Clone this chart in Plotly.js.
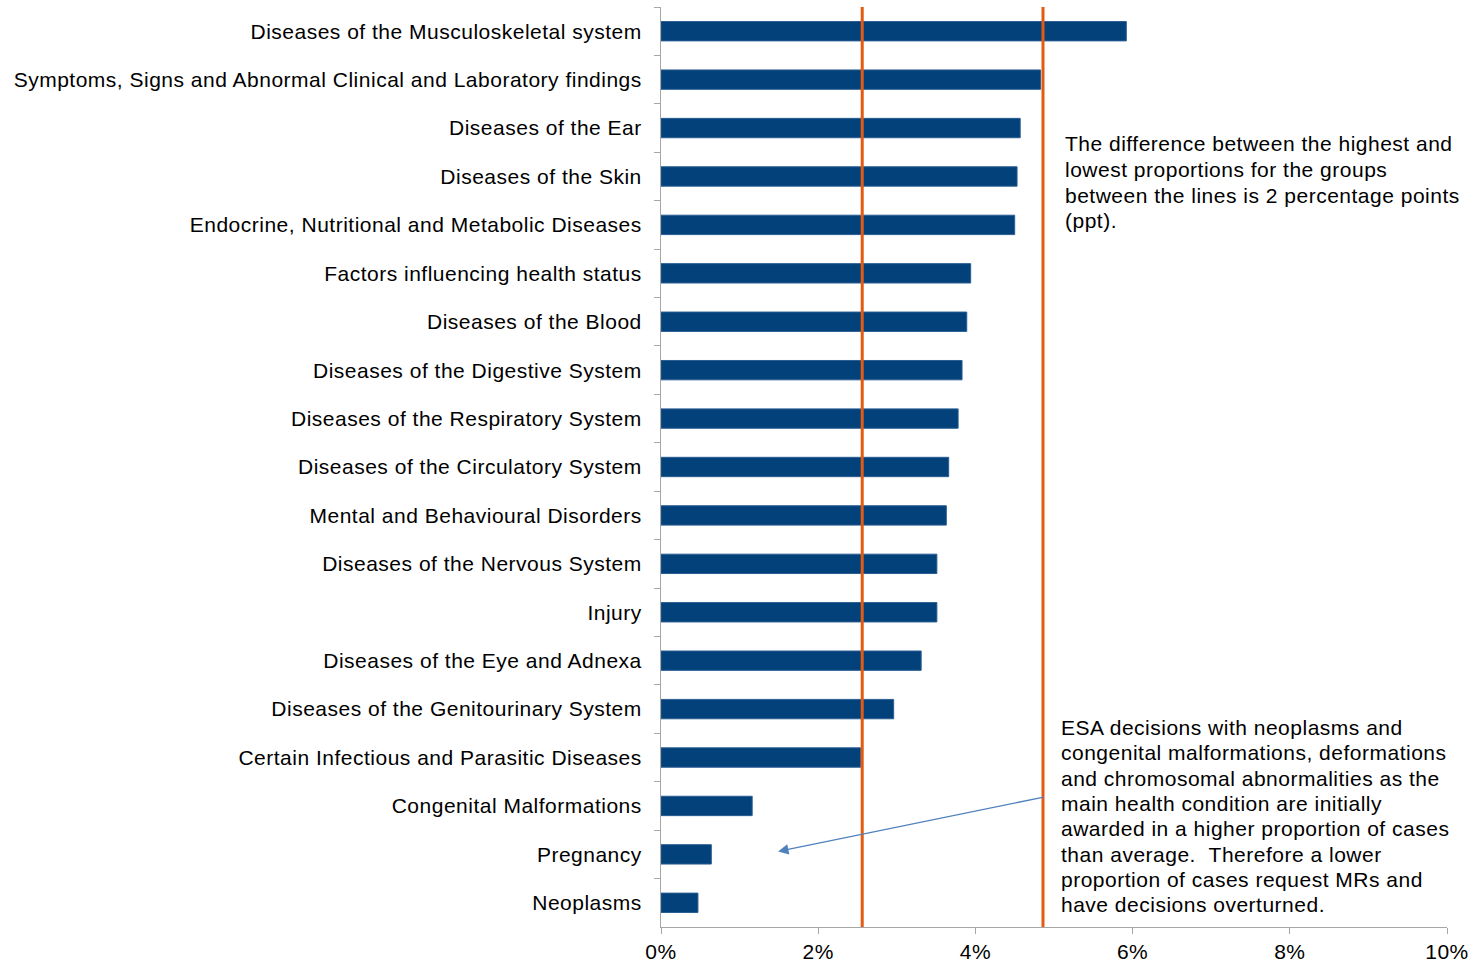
<!DOCTYPE html>
<html>
<head>
<meta charset="utf-8">
<script src="https://cdn.plot.ly/plotly-3.0.1.min.js"></script>
<style>
html,body{margin:0;padding:0;background:#fff;}
#chart{width:1473px;height:965px;}
#chart text{letter-spacing:0.5px;}
</style>
</head>
<body>
<div id="chart"></div>
<script>
const categories = [
  "Diseases of the Musculoskeletal system",
  "Symptoms, Signs and Abnormal Clinical and Laboratory findings",
  "Diseases of the Ear",
  "Diseases of the Skin",
  "Endocrine, Nutritional and Metabolic Diseases",
  "Factors influencing health status",
  "Diseases of the Blood",
  "Diseases of the Digestive System",
  "Diseases of the Respiratory System",
  "Diseases of the Circulatory System",
  "Mental and Behavioural Disorders",
  "Diseases of the Nervous System",
  "Injury",
  "Diseases of the Eye and Adnexa",
  "Diseases of the Genitourinary System",
  "Certain Infectious and Parasitic Diseases",
  "Congenital Malformations",
  "Pregnancy",
  "Neoplasms"
];
const values = [0.0592, 0.0483, 0.0457, 0.0453, 0.0450, 0.0394, 0.0389, 0.0383, 0.0378, 0.0366, 0.0363, 0.0351, 0.0351, 0.0331, 0.0296, 0.0254, 0.0116, 0.0064, 0.0047];
const refLines = [0.0256, 0.0486];
const xTicks = [0, 0.02, 0.04, 0.06, 0.08, 0.10];
const xTickLabels = ["0%", "2%", "4%", "6%", "8%", "10%"];
const note1Lines = [
  "The difference between the highest and",
  "lowest proportions for the groups",
  "between the lines is 2 percentage points",
  "(ppt)."
];
const note2Lines = [
  "ESA decisions with neoplasms and",
  "congenital malformations, deformations",
  "and chromosomal abnormalities as the",
  "main health condition are initially",
  "awarded in a higher proportion of cases",
  "than average.  Therefore a lower",
  "proportion of cases request MRs and",
  "have decisions overturned."
];
const arrowHead = {x: 0.0149, y: 16.94};
const arrowTail = {x: 0.0489, y: 15.81};

const font = {family: "Liberation Sans, Arial, sans-serif", size: 21, color: "#000"};

const trace = {
  type: "bar",
  orientation: "h",
  y: categories,
  x: values,
  marker: {color: "#02417a", line: {color: "#2a5e93", width: 1}},
  width: 0.4,
  hoverinfo: "x+y"
};

const shapes = refLines.map(v => ({
  type: "line", xref: "x", yref: "paper", x0: v, x1: v, y0: 0, y1: 1,
  line: {color: "#e35a12", width: 3}
}));

function noteAnnots(lines, x, y, lineH) {
  return lines.map((t, i) => ({
    xref: "paper", yref: "paper", x: x, y: y, xanchor: "left", yanchor: "middle",
    yshift: -i * lineH, text: t.replace(/  /g, " \u00a0"), align: "left", showarrow: false, font: font
  }));
}

const layout = {
  width: 1473, height: 965,
  margin: {l: 661, r: 26, t: 7, b: 38, pad: 0},
  paper_bgcolor: "#fff", plot_bgcolor: "#fff",
  font: font,
  showlegend: false,
  xaxis: {
    range: [0, 0.10], tickvals: xTicks, ticktext: xTickLabels,
    showgrid: false, zeroline: false, showline: true, linecolor: "#a6a6a6", linewidth: 1,
    ticks: "outside", ticklen: 6, tickcolor: "#a6a6a6", tickfont: font, fixedrange: true
  },
  yaxis: {
    type: "category", categoryorder: "array", categoryarray: categories,
    autorange: "reversed",
    showgrid: false, zeroline: false, showline: true, linecolor: "#a6a6a6", linewidth: 1,
    ticks: "outside", ticklen: 6, tickcolor: "#a6a6a6", tickson: "boundaries",
    ticklabelstandoff: 14,
    tickfont: font, fixedrange: true
  },
  shapes: shapes,
  annotations: [
    ...noteAnnots(note1Lines, 0.512, 0.8511, 25.6),
    ...noteAnnots(note2Lines, 0.506, 0.2168, 25.3),
    {xref: "x", yref: "y", x: arrowHead.x, y: arrowHead.y,
     axref: "x", ayref: "y", ax: arrowTail.x, ay: arrowTail.y,
     text: "", showarrow: true, arrowhead: 2, arrowsize: 1.6, arrowwidth: 1.3,
     arrowcolor: "#4f81bd", standoff: 0, startstandoff: 0}
  ]
};

Plotly.newPlot("chart", [trace], layout, {displayModeBar: false, staticPlot: true});
</script>
</body>
</html>
